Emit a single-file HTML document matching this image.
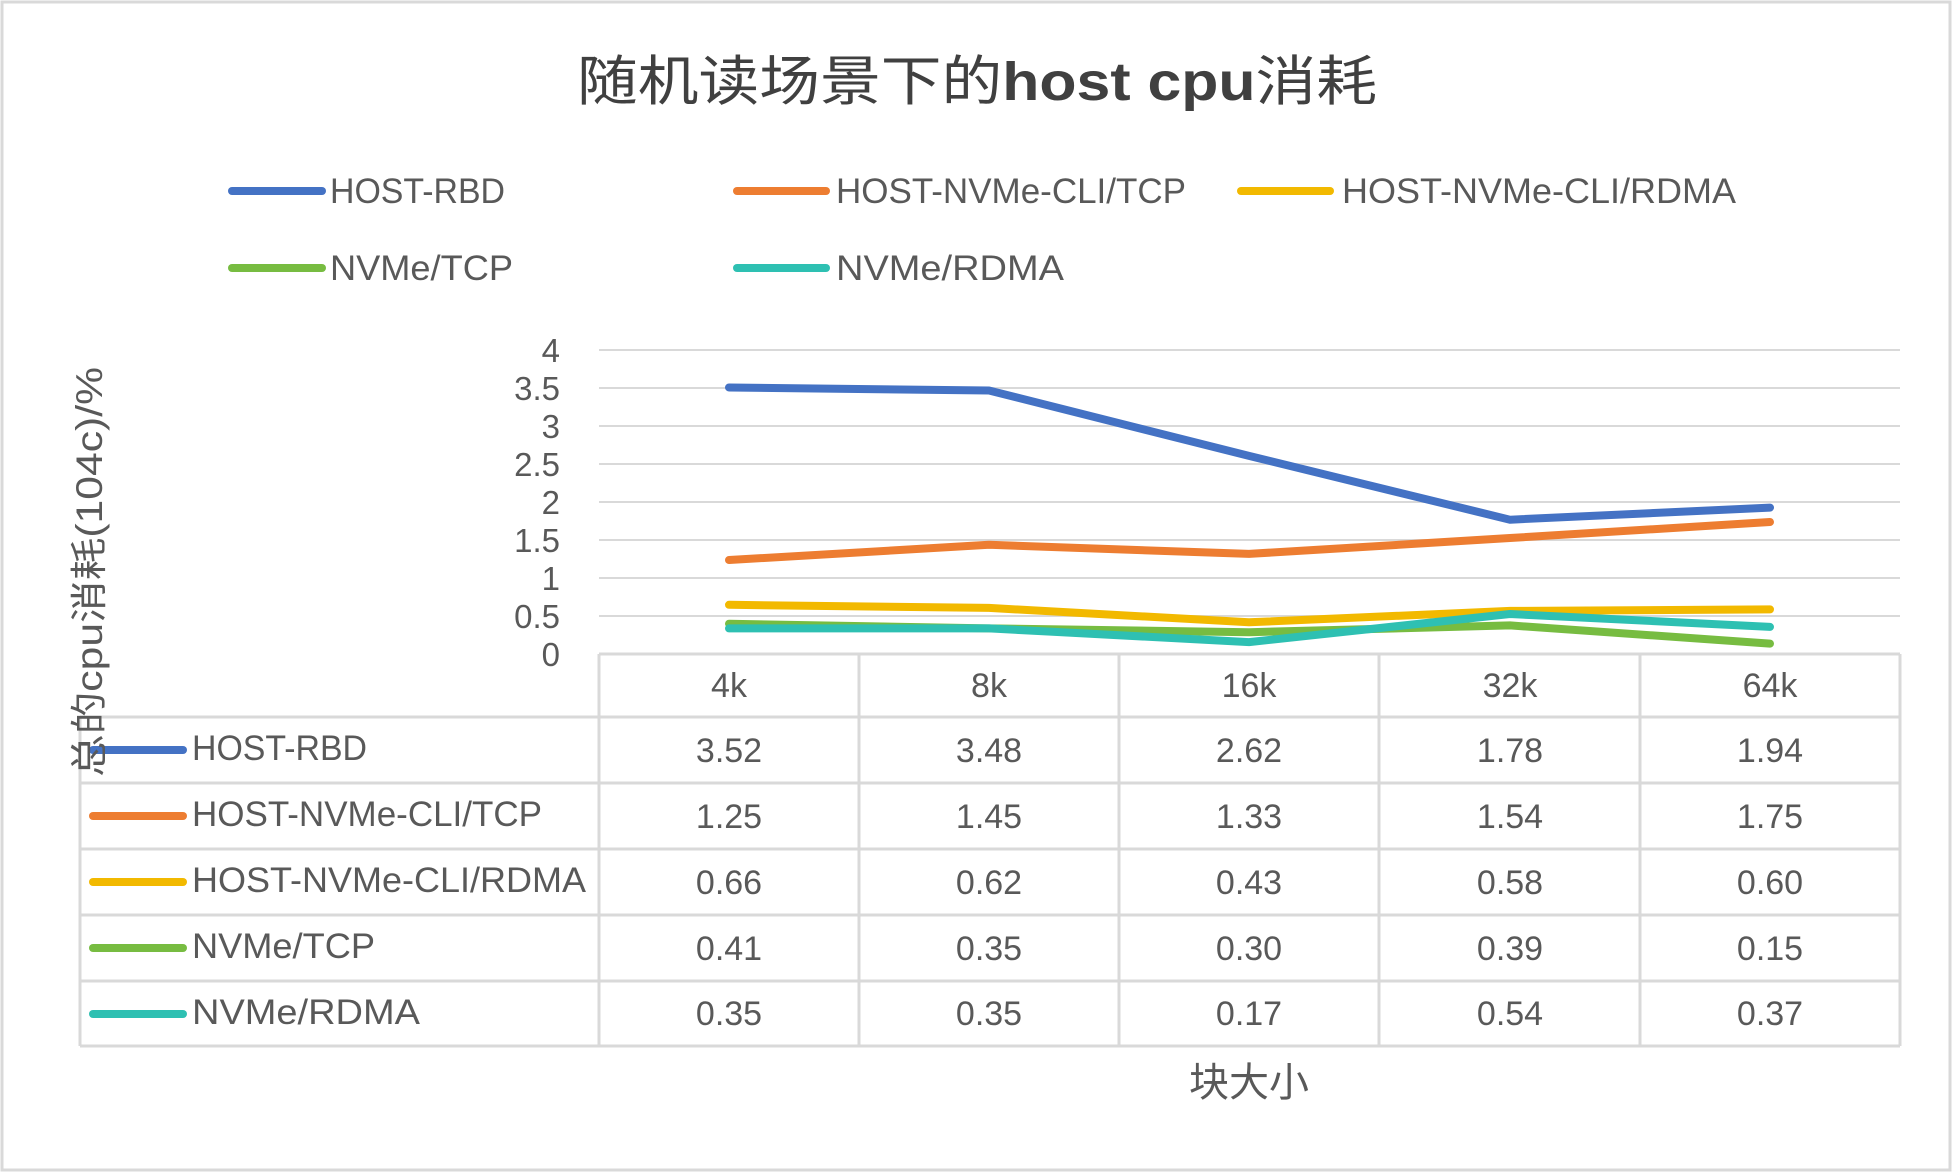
<!DOCTYPE html>
<html><head><meta charset="utf-8"><style>
html,body{margin:0;padding:0;background:#fff}
svg{display:block}
text{font-family:"Liberation Sans","Noto Sans CJK SC",sans-serif;fill:#595959}
</style></head><body>
<svg width="1952" height="1172" viewBox="0 0 1952 1172" xmlns="http://www.w3.org/2000/svg">
<rect x="2" y="2" width="1948" height="1168" fill="#fff" stroke="#d9d9d9" stroke-width="3"/>
<text x="977" y="100" text-anchor="middle" font-size="54" style="fill:#404040" textLength="800" lengthAdjust="spacingAndGlyphs">随机读场景下的<tspan font-weight="bold">host cpu</tspan>消耗</text>
<g stroke-width="8" stroke-linecap="round">
<line x1="232" y1="191" x2="322" y2="191" stroke="#4472C4"/>
<line x1="737" y1="191" x2="826" y2="191" stroke="#ED7D31"/>
<line x1="1241" y1="191" x2="1330" y2="191" stroke="#F2B900"/>
<line x1="232" y1="268" x2="322" y2="268" stroke="#77BC41"/>
<line x1="737" y1="268" x2="826" y2="268" stroke="#2EC0B2"/>
</g>
<g font-size="35">
<text x="330" y="203" textLength="175" lengthAdjust="spacingAndGlyphs">HOST-RBD</text>
<text x="836" y="203" textLength="350" lengthAdjust="spacingAndGlyphs">HOST-NVMe-CLI/TCP</text>
<text x="1342" y="203" textLength="394" lengthAdjust="spacingAndGlyphs">HOST-NVMe-CLI/RDMA</text>
<text x="330" y="280" textLength="183" lengthAdjust="spacingAndGlyphs">NVMe/TCP</text>
<text x="836" y="280" textLength="228" lengthAdjust="spacingAndGlyphs">NVMe/RDMA</text>
</g>
<g stroke="#d9d9d9" stroke-width="2">
<line x1="599" y1="350" x2="1900" y2="350"/>
<line x1="599" y1="388" x2="1900" y2="388"/>
<line x1="599" y1="426" x2="1900" y2="426"/>
<line x1="599" y1="464" x2="1900" y2="464"/>
<line x1="599" y1="502" x2="1900" y2="502"/>
<line x1="599" y1="540" x2="1900" y2="540"/>
<line x1="599" y1="578" x2="1900" y2="578"/>
<line x1="599" y1="616" x2="1900" y2="616"/>
</g>
<g stroke="#d9d9d9" stroke-width="3" fill="none">
<line x1="599" y1="654" x2="1900" y2="654"/>
<line x1="80" y1="717" x2="1900" y2="717"/>
<line x1="80" y1="783" x2="1900" y2="783"/>
<line x1="80" y1="849" x2="1900" y2="849"/>
<line x1="80" y1="915" x2="1900" y2="915"/>
<line x1="80" y1="981" x2="1900" y2="981"/>
<line x1="80" y1="1046" x2="1900" y2="1046"/>
<line x1="80" y1="717" x2="80" y2="1046"/>
<line x1="599" y1="654" x2="599" y2="1046"/>
<line x1="859" y1="654" x2="859" y2="1046"/>
<line x1="1119" y1="654" x2="1119" y2="1046"/>
<line x1="1379" y1="654" x2="1379" y2="1046"/>
<line x1="1640" y1="654" x2="1640" y2="1046"/>
<line x1="1900" y1="654" x2="1900" y2="1046"/>
</g>
<g font-size="33" text-anchor="end">
<text x="560" y="362">4</text><text x="560" y="400">3.5</text><text x="560" y="438">3</text>
<text x="560" y="476">2.5</text><text x="560" y="514">2</text><text x="560" y="552">1.5</text>
<text x="560" y="590">1</text><text x="560" y="628">0.5</text><text x="560" y="666">0</text>
</g>
<g fill="none" stroke-width="8" stroke-linejoin="round" stroke-linecap="round">
<polyline stroke="#4472C4" points="729,387.5 989,390.5 1249,455.9 1510,519.7 1770,507.6"/>
<polyline stroke="#ED7D31" points="729,560 989,544.8 1249,553.9 1510,538 1770,522"/>
<polyline stroke="#F2B900" points="729,604.8 989,607.9 1249,622.3 1510,610.9 1770,609.4"/>
<polyline stroke="#77BC41" points="729,623.8 989,628.4 1249,632.2 1510,625.4 1770,643.6"/>
<polyline stroke="#2EC0B2" points="729,628.4 989,628.4 1249,642.1 1510,614 1770,626.9"/>
</g>
<g font-size="34" text-anchor="middle">
<text x="729" y="697">4k</text><text x="989" y="697">8k</text><text x="1249" y="697">16k</text><text x="1510" y="697">32k</text><text x="1770" y="697">64k</text>
<text x="729" y="762">3.52</text><text x="989" y="762">3.48</text><text x="1249" y="762">2.62</text><text x="1510" y="762">1.78</text><text x="1770" y="762">1.94</text>
<text x="729" y="828">1.25</text><text x="989" y="828">1.45</text><text x="1249" y="828">1.33</text><text x="1510" y="828">1.54</text><text x="1770" y="828">1.75</text>
<text x="729" y="894">0.66</text><text x="989" y="894">0.62</text><text x="1249" y="894">0.43</text><text x="1510" y="894">0.58</text><text x="1770" y="894">0.60</text>
<text x="729" y="960">0.41</text><text x="989" y="960">0.35</text><text x="1249" y="960">0.30</text><text x="1510" y="960">0.39</text><text x="1770" y="960">0.15</text>
<text x="729" y="1025">0.35</text><text x="989" y="1025">0.35</text><text x="1249" y="1025">0.17</text><text x="1510" y="1025">0.54</text><text x="1770" y="1025">0.37</text>
</g>
<g stroke-width="8" stroke-linecap="round">
<line x1="93" y1="750" x2="183" y2="750" stroke="#4472C4"/>
<line x1="93" y1="816" x2="183" y2="816" stroke="#ED7D31"/>
<line x1="93" y1="882" x2="183" y2="882" stroke="#F2B900"/>
<line x1="93" y1="948" x2="183" y2="948" stroke="#77BC41"/>
<line x1="93" y1="1014" x2="183" y2="1014" stroke="#2EC0B2"/>
</g>
<g font-size="35">
<text x="192" y="760" textLength="175" lengthAdjust="spacingAndGlyphs">HOST-RBD</text>
<text x="192" y="826" textLength="350" lengthAdjust="spacingAndGlyphs">HOST-NVMe-CLI/TCP</text>
<text x="192" y="892" textLength="394" lengthAdjust="spacingAndGlyphs">HOST-NVMe-CLI/RDMA</text>
<text x="192" y="958" textLength="183" lengthAdjust="spacingAndGlyphs">NVMe/TCP</text>
<text x="192" y="1024" textLength="228" lengthAdjust="spacingAndGlyphs">NVMe/RDMA</text>
</g>
<text x="1249" y="1096" font-size="40" text-anchor="middle">块大小</text>
<text transform="translate(102,572) rotate(-90)" x="0" y="0" font-size="37" text-anchor="middle" textLength="410" lengthAdjust="spacingAndGlyphs">总的cpu消耗(104c)/%</text>
</svg>
</body></html>
